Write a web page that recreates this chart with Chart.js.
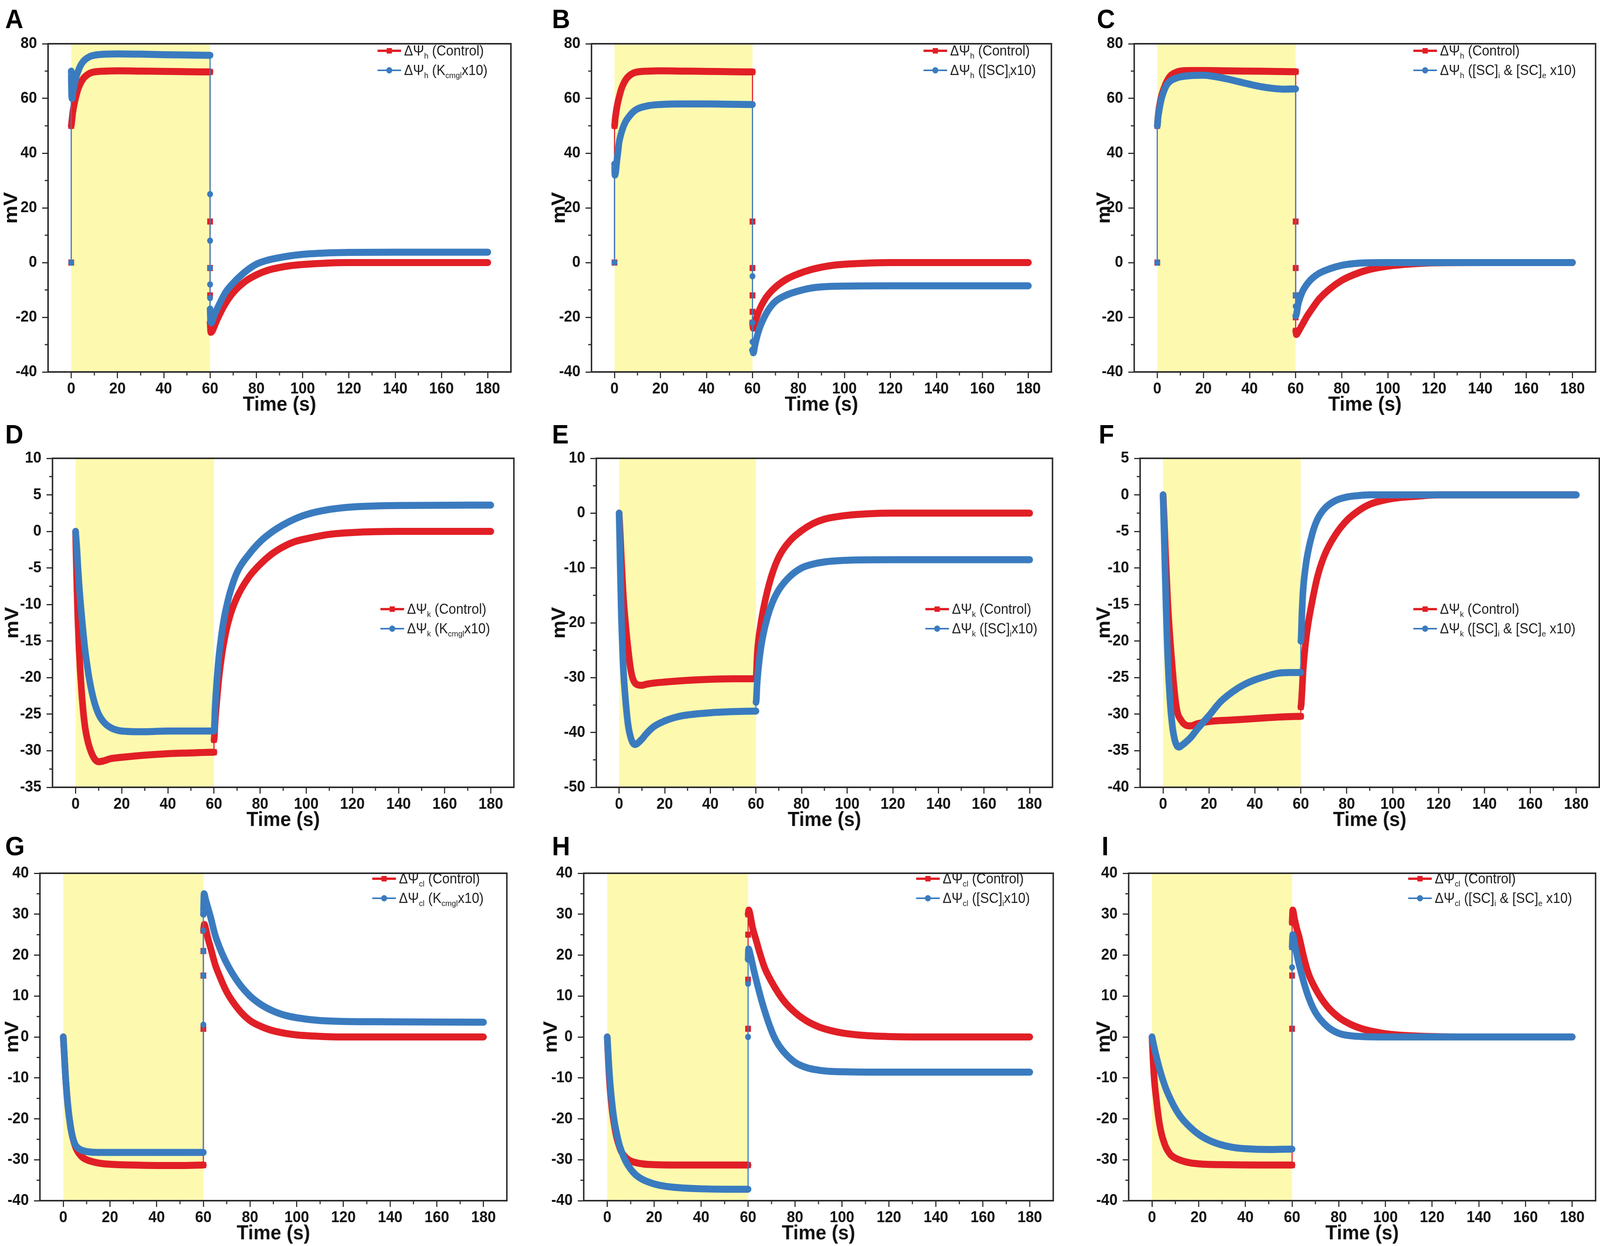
<!DOCTYPE html>
<html>
<head>
<meta charset="utf-8">
<script src="https://cdn.jsdelivr.net/npm/chart.js@4.4.1/dist/chart.umd.min.js"></script>
<style>
  html, body { margin: 0; padding: 0; overflow: hidden; background: #fff; }
  #fig { position: absolute; left: 0; top: 0; width: 4328px; height: 3189px; overflow: hidden; background: #fff;
         transform-origin: 0 0; font-family: "Liberation Sans", Arial, sans-serif; }
  #fig canvas { position: absolute; }
  .tag { position: absolute; font: bold 68px "Liberation Sans", Arial, sans-serif; line-height: 1; color: #000; }
  .legend { position: absolute; font-size: 36px; color: #222; line-height: 50px; white-space: nowrap; }
  .legend .row { display: flex; align-items: center; height: 50px; }
  .sw { position: relative; width: 64px; height: 18px; margin-right: 8px; flex: none; }
  .sw::before { content: ""; position: absolute; left: 0; right: 0; top: 7px; height: 4px; background: var(--c); }
  .sw.sq::before { top: 6px; height: 6px; }
  .sw i { position: absolute; left: 25px; top: 2px; width: 14px; height: 14px; background: var(--c); }
  .sw.dot i { left: 24px; top: 1px; width: 16px; height: 16px; border-radius: 50%; }
  sub { font-size: 58%; vertical-align: -0.4em; line-height: 0; }
</style>
</head>
<body>
<div id="fig"></div>
<script>
// ---- axis ticks ----
const xTicks = [0, 20, 40, 60, 80, 100, 120, 140, 160, 180];
const yTicksH = [-40, -20, 0, 20, 40, 60, 80];
const yTicksD = [-35, -30, -25, -20, -15, -10, -5, 0, 5, 10];
const yTicksE = [-50, -40, -30, -20, -10, 0, 10];
const yTicksF = [-40, -35, -30, -25, -20, -15, -10, -5, 0, 5];
const yTicksCl = [-40, -30, -20, -10, 0, 10, 20, 30, 40];
const stimWindow = [0, 60];

// ---- series: [time (s), mV] ----
const aCtrl = [[0,0],[0,50],[0.3,52],[0.7,55],[1.2,57.5],[2,60.5],[3,63.5],[4,65.5],[5,67],[6,68],[8,69.2],[10,69.7],[15,70],[20,70.1],[30,70],[40,69.9],[50,69.8],[60,69.7],[60,15],[60,-2],[60,-12],[60,-18],[60,-22],[60.3,-25.5],[61,-25],[62,-23],[63,-21],[65,-17.5],[67,-14.5],[70,-11],[75,-7],[80,-4.5],[85,-2.8],[90,-1.8],[95,-1.1],[100,-0.7],[110,-0.2],[120,0],[140,0],[180,0]];
const aKc = [[0,0],[0,70],[0.1,65],[0.2,61],[0.4,60],[0.7,62],[1,63.5],[1.5,65.5],[2,67.5],[3,70],[4,72],[5,73.3],[6,74.2],[8,75.3],[10,75.8],[15,76.2],[20,76.3],[30,76.2],[40,76],[50,75.9],[60,75.8],[60,25],[60,8],[60,-2],[60,-8],[60,-13],[60,-17],[60.2,-21],[60.6,-22],[61.5,-20],[63,-17],[65,-13.5],[67,-10.5],[70,-7.5],[75,-3.5],[80,-0.6],[85,0.9],[90,1.8],[95,2.5],[100,3],[110,3.5],[120,3.7],[140,3.8],[160,3.8],[180,3.8]];

const bCtrl = [[0,0],[0,50],[0.3,52.5],[0.7,55],[1.2,57.5],[2,60.5],[3,63.5],[4,65.5],[5,67],[6,68],[8,69.2],[10,69.7],[15,70],[20,70.1],[30,70],[40,69.9],[50,69.8],[60,69.7],[60,15],[60,-2],[60,-12],[60,-18],[60,-22],[60.3,-24],[61,-22],[62,-19.5],[63,-17.3],[65,-14],[67,-11.6],[70,-9],[75,-6],[80,-4.1],[85,-2.7],[90,-1.7],[95,-1],[100,-0.6],[110,-0.2],[120,0],[140,0],[180,0]];
const bSc = [[0,0],[0,36],[0.2,32],[0.5,33],[1,37],[1.5,40.5],[2,44],[3,47.5],[4,50],[5,51.8],[6,53],[8,55],[10,56.2],[15,57.4],[20,57.8],[30,58],[40,58],[50,57.9],[60,57.8],[60,-5],[60,-22],[60,-29],[60,-32],[60.4,-33],[61,-30.5],[62,-27],[63,-24.2],[65,-20.2],[67,-17.2],[70,-14.2],[75,-11.8],[80,-10.4],[85,-9.4],[90,-8.9],[100,-8.6],[120,-8.5],[140,-8.5],[180,-8.5]];

const cCtrl = [[0,0],[0,50],[0.3,53],[0.7,56],[1.2,58.5],[2,61.5],[3,64],[4,66],[5,67.5],[6,68.5],[8,69.5],[10,70],[15,70.2],[20,70.2],[30,70.1],[40,70],[50,69.9],[60,69.8],[60,15],[60,-2],[60,-12],[60,-20],[60,-25],[60.3,-26.3],[61,-25.5],[62,-24],[63,-22.5],[65,-19.5],[67,-17],[70,-13.5],[75,-9.5],[80,-6.5],[85,-4.5],[90,-3],[95,-2],[100,-1.3],[110,-0.5],[120,-0.1],[140,0],[180,0]];
const cSc = [[0,0],[0,50],[0.3,53],[0.7,55],[1.2,57.5],[2,60.5],[3,63],[4,64.8],[5,65.9],[6,66.6],[8,67.4],[10,67.9],[15,68.4],[20,68.5],[25,68],[30,67.2],[35,66.2],[40,65.2],[45,64.3],[50,63.7],[55,63.4],[60,63.5],[60,-12],[60,-16],[60,-19.5],[60.3,-19],[61,-15.5],[62,-12.6],[63,-10.5],[65,-7.8],[67,-5.9],[70,-4],[75,-2.2],[80,-1],[85,-0.4],[90,-0.1],[100,0],[120,0],[180,0]];

const dCtrl = [[0,0],[0.6,-8],[1,-12],[1.5,-16],[2,-19],[3,-23.5],[4,-26.5],[5,-28.3],[6,-29.5],[8,-31],[10,-31.5],[12,-31.4],[15,-31.1],[20,-30.9],[30,-30.6],[40,-30.4],[50,-30.3],[60,-30.2],[60,-28.5],[60.5,-26],[61,-24],[62,-20.5],[63,-17.8],[65,-14],[67,-11.5],[70,-9],[75,-6.3],[80,-4.5],[85,-3.1],[90,-2.1],[95,-1.4],[100,-1],[110,-0.4],[120,-0.15],[140,0],[180,0]];
const dKc = [[0,0],[0.6,-2.5],[1,-4.8],[1.5,-7.2],[2,-9.3],[3,-12.8],[4,-15.9],[5,-18.3],[6,-20.3],[8,-23.2],[10,-25],[12,-26],[15,-26.8],[20,-27.3],[30,-27.4],[40,-27.3],[60,-27.3],[60.5,-24],[61,-21.5],[62,-17.5],[63,-14.8],[64,-12.6],[65,-10.9],[67,-8.3],[70,-5.6],[75,-3.2],[80,-1.4],[85,-0.1],[90,0.9],[95,1.7],[100,2.3],[110,3],[120,3.35],[140,3.55],[180,3.6]];

const eCtrl = [[0,0],[0.5,-4],[1,-8.5],[2,-16],[3,-21],[4,-25],[5,-28.3],[6,-30.2],[8,-31.3],[10,-31.4],[12,-31.2],[15,-31],[20,-30.8],[30,-30.5],[40,-30.3],[50,-30.2],[60,-30.2],[60.5,-26],[61,-23.5],[62,-20.5],[63,-18],[65,-14.2],[67,-11.2],[70,-8],[75,-5],[80,-3.2],[85,-1.9],[90,-1.1],[100,-0.4],[110,-0.1],[120,0],[180,0]];
const eSc = [[0,0],[0.5,-10],[1,-19],[1.5,-25],[2,-29.5],[3,-35],[4,-38.8],[5,-40.8],[6,-41.9],[7,-42.2],[8,-42],[10,-41.2],[12,-40.2],[15,-39],[20,-37.9],[25,-37.2],[30,-36.8],[40,-36.4],[50,-36.2],[60,-36.1],[60,-34.5],[60.5,-31],[61,-28.5],[62,-25],[63,-22.5],[65,-19],[67,-16.5],[70,-14],[75,-11.5],[80,-10],[85,-9.3],[90,-8.9],[100,-8.6],[120,-8.5],[180,-8.5]];

const fCtrl = [[0,0],[0.5,-3.5],[1,-7.5],[2,-14.5],[3,-19.5],[4,-23.5],[5,-27],[6,-29.4],[8,-30.9],[10,-31.5],[12,-31.6],[15,-31.3],[20,-31],[30,-30.8],[40,-30.6],[50,-30.4],[60,-30.3],[60,-29],[60.5,-27],[61,-24],[62,-20.5],[63,-18],[65,-14.5],[67,-11.5],[70,-8.5],[75,-5.5],[80,-3.5],[85,-2.2],[90,-1.3],[100,-0.5],[110,-0.2],[120,0],[180,0]];
const fSc = [[0,0],[0.5,-6],[1,-12],[1.5,-17.5],[2,-22],[3,-28],[4,-31.5],[5,-33.4],[6,-34.3],[7,-34.5],[8,-34.3],[10,-33.8],[12,-33.2],[15,-32],[20,-30.2],[25,-28.3],[30,-27],[35,-26],[40,-25.3],[45,-24.8],[50,-24.4],[55,-24.3],[60,-24.3],[60,-20],[60.5,-16],[61,-13],[62,-10],[63,-8],[65,-5.3],[67,-3.5],[70,-2],[75,-0.8],[80,-0.3],[85,-0.1],[90,0],[180,0]];

const gCtrl = [[0,0],[0.5,-5],[1,-10],[2,-17],[3,-21.5],[4,-24.5],[5,-26.5],[6,-27.8],[8,-29.3],[10,-30],[15,-30.8],[20,-31.1],[30,-31.3],[40,-31.4],[50,-31.4],[60,-31.3],[60,2],[60,15],[60,21],[60,26],[60.4,27.5],[61,26.5],[62,24],[63,22],[65,17.8],[67,14.8],[70,11],[75,6.8],[80,4],[85,2.5],[90,1.5],[95,0.9],[100,0.5],[110,0.15],[120,0],[180,0]];
const gKc = [[0,0],[0.5,-5],[1,-10],[2,-17],[3,-21.5],[4,-24.5],[5,-26.2],[6,-27],[8,-27.7],[10,-28],[15,-28.2],[20,-28.2],[40,-28.2],[60,-28.2],[60,3],[60,15],[60,21],[60,26],[60,30],[60.3,35],[61,33.5],[62,31.5],[63,29.5],[65,25],[67,21.8],[70,18],[75,13.3],[80,10],[85,7.8],[90,6.3],[95,5.3],[100,4.7],[110,4],[120,3.8],[140,3.7],[180,3.6]];

const hCtrl = [[0,0],[0.5,-6],[1,-11],[2,-17.5],[3,-21.5],[4,-24.5],[5,-26.5],[6,-28],[8,-29.5],[10,-30.3],[15,-31],[20,-31.2],[30,-31.3],[60,-31.3],[60,2],[60,14],[60,25],[60,30],[60.3,31],[61,29.5],[62,26.5],[63,24.5],[65,20.5],[67,17],[70,13.5],[75,9],[80,6],[85,3.9],[90,2.5],[95,1.6],[100,1],[110,0.35],[120,0.1],[140,0],[180,0]];
const hSc = [[0,0],[0.5,-5],[1,-9.5],[2,-16],[3,-20.5],[4,-23.5],[5,-26],[6,-27.8],[8,-30.5],[10,-32.3],[12,-33.6],[15,-34.8],[20,-35.9],[25,-36.5],[30,-36.8],[40,-37.1],[50,-37.2],[60,-37.2],[60,0],[60,13],[60,19],[60.2,21.5],[61,20],[62,17.5],[63,15],[65,10.5],[67,6.5],[70,1.5],[72,-1],[75,-3.5],[80,-6.2],[85,-7.5],[90,-8.1],[95,-8.4],[100,-8.5],[120,-8.6],[180,-8.6]];

const iCtrl = [[0,0],[0.5,-6],[1,-10.5],[2,-16],[3,-20.5],[4,-23.5],[5,-25.5],[6,-27],[8,-28.8],[10,-29.6],[15,-30.6],[20,-31],[30,-31.2],[60,-31.3],[60,2],[60,15],[60,22],[60,28],[60.3,31],[61,29],[62,26.5],[63,24.5],[65,19.5],[67,15.5],[70,11.8],[75,7.5],[80,4.8],[85,3.1],[90,2],[95,1.3],[100,0.8],[110,0.3],[120,0.1],[140,0],[180,0]];
const iSc = [[0,0],[1,-2.7],[2,-5.1],[3,-7.3],[4,-9.3],[5,-11.1],[6,-12.7],[8,-15.3],[10,-17.5],[12,-19.3],[15,-21.3],[20,-23.8],[25,-25.4],[30,-26.4],[35,-27],[40,-27.3],[50,-27.5],[60,-27.4],[60,17],[60,22],[60.3,25],[61,23],[62,20.2],[63,17.7],[65,13.4],[67,9.8],[70,6],[75,2.6],[80,0.9],[85,0.3],[90,0.1],[100,0],[180,0]];

// ---- legend labels ----
const labelsH = ['ΔΨ<sub>h</sub> (Control)', 'ΔΨ<sub>h</sub> (K<sub>cmgl</sub>x10)', 'ΔΨ<sub>h</sub> ([SC]<sub>i</sub>x10)', 'ΔΨ<sub>h</sub> ([SC]<sub>i</sub> &amp; [SC]<sub>e</sub> x10)'];
const labelsK = ['ΔΨ<sub>k</sub> (Control)', 'ΔΨ<sub>k</sub> (K<sub>cmgl</sub>x10)', 'ΔΨ<sub>k</sub> ([SC]<sub>i</sub>x10)', 'ΔΨ<sub>k</sub> ([SC]<sub>i</sub> &amp; [SC]<sub>e</sub> x10)'];
const labelsCl = ['ΔΨ<sub>cl</sub> (Control)', 'ΔΨ<sub>cl</sub> (K<sub>cmgl</sub>x10)', 'ΔΨ<sub>cl</sub> ([SC]<sub>i</sub>x10)', 'ΔΨ<sub>cl</sub> ([SC]<sub>i</sub> &amp; [SC]<sub>e</sub> x10)'];

const RED = '#E11F26', BLUE = '#3A7BBF', SHADE = '#FDFAB0', INK = '#2a2a2a';
const TICK_FONT = '"Liberation Sans Narrow", "Liberation Sans", Arial, sans-serif';
const BAND = 18, THIN = 3;

// layout: plot box [left, top, right, bottom], tag and legend corners, mV offset
const panels = [
  { tag: 'A', tagAt: [14, 14],   box: [130, 104, 1382, 952],   leg: [1021, 105],  mv: 100, y: yTicksH,  red: aCtrl, blue: aKc, lab: [labelsH[0], labelsH[1]] },
  { tag: 'B', tagAt: [1493, 14], box: [1600, 104, 2844, 952],  leg: [2498, 105],  mv: 88,  y: yTicksH,  red: bCtrl, blue: bSc, lab: [labelsH[0], labelsH[2]] },
  { tag: 'C', tagAt: [2967, 14], box: [3068, 104, 4316, 952],  leg: [3823, 105],  mv: 82,  y: yTicksH,  red: cCtrl, blue: cSc, lab: [labelsH[0], labelsH[3]] },
  { tag: 'D', tagAt: [14, 1077], box: [142, 1165, 1390, 2015], leg: [1029, 1534], mv: 109, y: yTicksD,  red: dCtrl, blue: dKc, lab: [labelsK[0], labelsK[1]] },
  { tag: 'E', tagAt: [1493, 1077], box: [1613, 1165, 2847, 2015], leg: [2503, 1534], mv: 101, y: yTicksE, red: eCtrl, blue: eSc, lab: [labelsK[0], labelsK[2]] },
  { tag: 'F', tagAt: [2972, 1077], box: [3084, 1165, 4326, 2015], leg: [3823, 1534], mv: 98, y: yTicksF, red: fCtrl, blue: fSc, lab: [labelsK[0], labelsK[3]] },
  { tag: 'G', tagAt: [14, 2131], box: [108, 2227, 1371, 3073], leg: [1007, 2224], mv: 75,  y: yTicksCl, red: gCtrl, blue: gKc, lab: [labelsCl[0], labelsCl[1]] },
  { tag: 'H', tagAt: [1493, 2131], box: [1579, 2227, 2849, 3073], leg: [2478, 2224], mv: 89, y: yTicksCl, red: hCtrl, blue: hSc, lab: [labelsCl[0], labelsCl[2]] },
  { tag: 'I', tagAt: [2980, 2131], box: [3053, 2227, 4316, 3073], leg: [3809, 2224], mv: 67, y: yTicksCl, red: iCtrl, blue: iSc, lab: [labelsCl[0], labelsCl[3]] }
];

const fig = document.getElementById('fig');

// fit the 4328x3189 figure into whatever viewport we get
function fitFigure() {
  const kx = (window.innerWidth || 4328) / 4328;
  const ky = (window.innerHeight || 3189) / 3189;
  fig.style.transform = `scale(${kx}, ${ky})`;
}
fitFigure();

const mids = arr => arr.slice(1).map((v, i) => (v + arr[i]) / 2);

// shading for the stimulus window, full frame and minor ticks
const framePlugin = {
  id: 'frame',
  beforeDatasetsDraw(c) {
    const { ctx, chartArea: a, scales: { x } } = c;
    const x0 = x.getPixelForValue(stimWindow[0]), x1 = x.getPixelForValue(stimWindow[1]);
    ctx.save();
    ctx.fillStyle = SHADE;
    ctx.fillRect(x0, a.top, x1 - x0, a.bottom - a.top);
    ctx.restore();
  },
  afterDraw(c) {
    const { ctx, chartArea: a, scales: { x, y } } = c;
    ctx.save();
    ctx.strokeStyle = INK;
    ctx.lineWidth = 4;
    ctx.strokeRect(a.left, a.top, a.right - a.left, a.bottom - a.top);
    ctx.lineWidth = 3;
    ctx.beginPath();
    mids(xTicks).forEach(v => {
      const px = x.getPixelForValue(v);
      ctx.moveTo(px, a.bottom); ctx.lineTo(px, a.bottom + 9);
    });
    mids(c.options.yTickList).forEach(v => {
      const py = y.getPixelForValue(v);
      ctx.moveTo(a.left, py); ctx.lineTo(a.left - 9, py);
    });
    ctx.stroke();
    ctx.restore();
  }
};

function series(pairs, color, style, order, label) {
  return {
    label,
    data: pairs.map(([x, y]) => ({ x, y })),
    borderColor: color,
    backgroundColor: color,
    borderWidth: BAND,
    borderCapStyle: 'round',
    borderJoinStyle: 'round',
    cubicInterpolationMode: 'monotone',
    pointStyle: style,
    pointBorderWidth: 0,
    pointBackgroundColor: color,
    pointRadius: ctx => {
      const d = ctx.dataset.data, i = ctx.dataIndex;
      const same = (d[i - 1] && d[i - 1].x === d[i].x) || (d[i + 1] && d[i + 1].x === d[i].x);
      return same ? (style === 'rect' ? 11 : 8) : 0;
    },
    segment: {
      borderWidth: s => (Math.abs(s.p0.x - s.p1.x) < 0.5 ? THIN : BAND)
    },
    order
  };
}

function legendHTML(p) {
  const el = document.createElement('div');
  el.className = 'legend';
  el.style.left = p.leg[0] + 'px';
  el.style.top = p.leg[1] + 'px';
  el.innerHTML =
    `<div class="row"><span class="sw sq" style="--c:${RED}"><i></i></span><span>${p.lab[0]}</span></div>` +
    `<div class="row"><span class="sw dot" style="--c:${BLUE}"><i></i></span><span>${p.lab[1]}</span></div>`;
  fig.appendChild(el);
}

function addPanel(p) {
  const [l, t, r, b] = p.box;
  const yW = p.mv + 36, xH = 116, padT = 30, padR = 20;
  const cv = document.createElement('canvas');
  const w = (r - l) + yW + padR, h = (b - t) + xH + padT;
  cv.width = w; cv.height = h;
  cv.style.width = w + 'px'; cv.style.height = h + 'px';
  cv.style.left = (l - yW) + 'px';
  cv.style.top = (t - padT) + 'px';
  fig.appendChild(cv);

  const tag = document.createElement('div');
  tag.className = 'tag';
  tag.textContent = p.tag;
  tag.style.left = p.tagAt[0] + 'px';
  tag.style.top = p.tagAt[1] + 'px';
  fig.appendChild(tag);

  legendHTML(p);

  const tickFont = { family: TICK_FONT, size: 40, weight: 'bold' };
  const titleFont = { family: TICK_FONT, size: 52, weight: 'bold' };
  new Chart(cv, {
    type: 'line',
    data: {
      datasets: [
        series(p.red, RED, 'rect', 1, 'Control'),
        series(p.blue, BLUE, 'circle', 0, 'Modified')
      ]
    },
    options: {
      responsive: false,
      animation: false,
      devicePixelRatio: 1,
      events: [],
      yTickList: p.y,
      layout: { padding: { top: padT, right: padR, left: 0, bottom: 0 } },
      plugins: { legend: { display: false }, tooltip: { enabled: false } },
      scales: {
        x: {
          type: 'linear', min: -10, max: 190,
          afterBuildTicks: s => { s.ticks = xTicks.map(v => ({ value: v })); },
          afterFit: s => { s.height = xH; },
          ticks: { font: tickFont, color: '#111', padding: 4, maxRotation: 0, autoSkip: false },
          grid: { drawOnChartArea: false, drawTicks: true, tickLength: 16, tickWidth: 3, tickColor: INK },
          border: { display: false },
          title: { display: true, text: 'Time (s)', font: titleFont, color: '#111', padding: { top: 0, bottom: 0 } }
        },
        y: {
          type: 'linear', min: p.y[0], max: p.y[p.y.length - 1],
          afterBuildTicks: s => { s.ticks = p.y.map(v => ({ value: v })); },
          afterFit: s => { s.width = yW; },
          ticks: { font: tickFont, color: '#111', padding: 14, autoSkip: false },
          grid: { drawOnChartArea: false, drawTicks: true, tickLength: 16, tickWidth: 3, tickColor: INK },
          border: { display: false },
          title: { display: true, text: 'mV', font: titleFont, color: '#111', padding: { top: 6, bottom: 0 } }
        }
      }
    },
    plugins: [framePlugin]
  });
}

panels.forEach(addPanel);
</script>
</body>
</html>
